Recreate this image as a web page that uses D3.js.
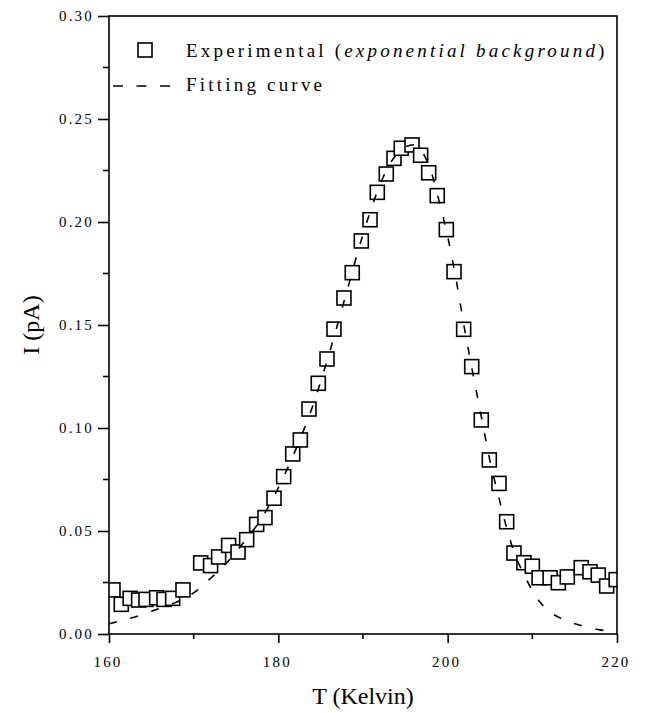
<!DOCTYPE html>
<html>
<head>
<meta charset="utf-8">
<script src="https://cdn.jsdelivr.net/npm/d3@7"></script>
<style>
  body { margin: 0; background: #fff; }
  svg { display: block; }
  .tick-label { font-family: "Liberation Serif", serif; font-size: 15px; letter-spacing: 2.2px; fill: #000; }
  .axis-title { font-family: "Liberation Serif", serif; font-size: 24px; fill: #000; }
  .legend-text { font-family: "Liberation Serif", serif; font-size: 19px; letter-spacing: 3.2px; fill: #000; }
</style>
</head>
<body>
<div id="chart"></div>
<script>
// experimental points (T in Kelvin, I in pA)
const expT = [160.47, 161.45, 162.5, 163.5, 164.37, 165.63, 166.5, 167.52, 168.74, 170.83,
  172.0, 172.95, 174.13, 175.24, 176.26, 177.44, 178.42, 179.49, 180.63, 181.7,
  182.6, 183.62, 184.72, 185.75, 186.57, 187.75, 188.73, 189.8, 190.83, 191.69,
  192.75, 193.66, 194.52, 195.79, 196.81, 197.76, 198.77, 199.84, 200.75, 201.89,
  202.84, 203.97, 204.92, 206.06, 206.97, 207.83, 209.01, 210.0, 210.8, 212.1,
  213.07, 214.13, 215.78, 216.81, 217.79, 218.78, 219.9];
const expI = [0.0214, 0.0144, 0.0173, 0.0165, 0.0168, 0.0176, 0.0168, 0.0173, 0.0214, 0.0345,
  0.0332, 0.0374, 0.0430, 0.0398, 0.0458, 0.0532, 0.0565, 0.0659, 0.0764, 0.0874,
  0.0942, 0.1092, 0.1217, 0.1335, 0.1480, 0.1631, 0.1754, 0.1908, 0.2011, 0.2144,
  0.2233, 0.2309, 0.2358, 0.2374, 0.2324, 0.2239, 0.2128, 0.1963, 0.1759, 0.1479,
  0.1298, 0.1039, 0.0845, 0.0731, 0.0545, 0.0393, 0.0346, 0.0329, 0.0273, 0.0273,
  0.0249, 0.0277, 0.0322, 0.0302, 0.0286, 0.0233, 0.0264];

// fitting curve
const fitT = [160, 162, 164, 166, 168, 170, 172, 174, 176, 178,
  180, 182, 184, 186, 188, 190, 192, 193, 194, 195,
  196, 197, 198, 199, 200, 201, 202, 203, 204, 205,
  206, 207, 208, 209, 210, 211, 212, 214, 216, 218, 220];
const fitI = [0.005, 0.007, 0.0095, 0.0125, 0.0155, 0.020, 0.027, 0.035, 0.045, 0.056,
  0.071, 0.089, 0.110, 0.136, 0.165, 0.194, 0.218, 0.227, 0.233, 0.2365,
  0.2375, 0.234, 0.225, 0.210, 0.193, 0.172, 0.148, 0.126, 0.105, 0.084,
  0.067, 0.051, 0.038, 0.029, 0.021, 0.015, 0.011, 0.0065, 0.0038, 0.002, 0.001];

const xTicks = [160, 180, 200, 220];
const xMinor = [170, 190, 210];
const yTicks = [0, 0.05, 0.10, 0.15, 0.20, 0.25, 0.30];
const yMinor = [0.025, 0.075, 0.125, 0.175, 0.225, 0.275];

const width = 645, height = 713;
const plot = {left: 109, right: 617, top: 16, bottom: 634};

const x = d3.scaleLinear().domain([160, 220]).range([plot.left, plot.right]);
const y = d3.scaleLinear().domain([0, 0.30]).range([plot.bottom, plot.top]);

const svg = d3.select('#chart').append('svg')
  .attr('width', width)
  .attr('height', height);

svg.append('defs').append('clipPath')
  .attr('id', 'plot-clip')
  .append('rect')
  .attr('x', plot.left).attr('y', plot.top)
  .attr('width', plot.right - plot.left)
  .attr('height', plot.bottom - plot.top);

// data squares
const pts = d3.zip(expT, expI);
const sq = 14;
svg.append('g')
  .attr('clip-path', 'url(#plot-clip)')
  .selectAll('rect')
  .data(pts)
  .enter().append('rect')
  .attr('x', d => x(d[0]) - sq / 2)
  .attr('y', d => y(d[1]) - sq / 2)
  .attr('width', sq)
  .attr('height', sq)
  .attr('fill', '#fff')
  .attr('stroke', '#000')
  .attr('stroke-width', 1.6);

// fitting curve
const line = d3.line()
  .x(d => x(d[0]))
  .y(d => y(d[1]))
  .curve(d3.curveMonotoneX);

svg.append('path')
  .datum(d3.zip(fitT, fitI))
  .attr('clip-path', 'url(#plot-clip)')
  .attr('fill', 'none')
  .attr('stroke', '#000')
  .attr('stroke-width', 1.6)
  .attr('stroke-dasharray', '8,14')
  .attr('d', line);

// axes
const xAxis = svg.append('g')
  .attr('transform', 'translate(0,' + plot.bottom + ')')
  .call(d3.axisBottom(x).tickValues(xTicks).tickSize(9).tickFormat(''));
xAxis.append('g').selectAll('line')
  .data(xMinor).enter().append('line')
  .attr('x1', d => x(d)).attr('x2', d => x(d))
  .attr('y1', 0).attr('y2', 5);

const yAxis = svg.append('g')
  .attr('transform', 'translate(' + plot.left + ',0)')
  .call(d3.axisLeft(y).tickValues(yTicks).tickSize(11).tickFormat(''));
yAxis.append('g').selectAll('line')
  .data(yMinor).enter().append('line')
  .attr('y1', d => y(d)).attr('y2', d => y(d))
  .attr('x1', 0).attr('x2', -6);

[xAxis, yAxis].forEach(g => {
  g.select('.domain').remove();
  g.selectAll('line').attr('stroke', '#000').attr('stroke-width', 1.6);
});

// frame
svg.append('rect')
  .attr('x', plot.left).attr('y', plot.top)
  .attr('width', plot.right - plot.left)
  .attr('height', plot.bottom - plot.top)
  .attr('fill', 'none')
  .attr('stroke', '#000')
  .attr('stroke-width', 1.6);

// tick labels
svg.selectAll('.xlab')
  .data(xTicks).enter().append('text')
  .attr('class', 'tick-label')
  .attr('x', d => x(d) - 1)
  .attr('y', 667)
  .attr('text-anchor', 'middle')
  .text(d => d);

svg.selectAll('.ylab')
  .data(yTicks).enter().append('text')
  .attr('class', 'tick-label')
  .attr('x', 94)
  .attr('y', d => y(d) + 5)
  .attr('text-anchor', 'end')
  .text(d3.format('.2f'));

// axis titles
svg.append('text')
  .attr('class', 'axis-title')
  .attr('x', (plot.left + plot.right) / 2)
  .attr('y', 704)
  .attr('text-anchor', 'middle')
  .text('T (Kelvin)');

svg.append('text')
  .attr('class', 'axis-title')
  .attr('transform', 'translate(39,' + ((plot.top + plot.bottom) / 2) + ') rotate(-90)')
  .attr('text-anchor', 'middle')
  .text('I (pA)');

// legend
svg.append('rect')
  .attr('x', 145 - sq / 2).attr('y', 50 - sq / 2)
  .attr('width', sq).attr('height', sq)
  .attr('fill', '#fff').attr('stroke', '#000').attr('stroke-width', 1.6);

const t1 = svg.append('text')
  .attr('class', 'legend-text')
  .attr('x', 186).attr('y', 57);
t1.append('tspan').text('Experimental (');
t1.append('tspan').attr('font-style', 'italic').text('exponential background');
t1.append('tspan').text(')');

svg.append('line')
  .attr('x1', 113).attr('x2', 170)
  .attr('y1', 86).attr('y2', 86)
  .attr('stroke', '#000').attr('stroke-width', 1.6)
  .attr('stroke-dasharray', '10,13.5');

svg.append('text')
  .attr('class', 'legend-text')
  .attr('x', 186).attr('y', 91)
  .text('Fitting curve');
</script>
</body>
</html>
